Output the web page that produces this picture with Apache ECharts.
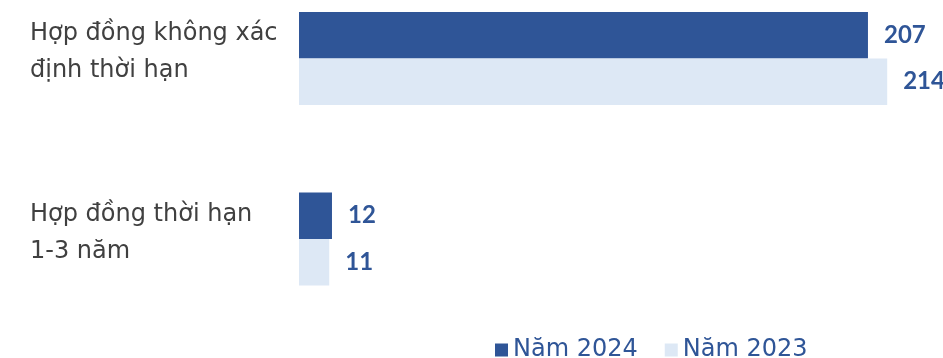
<!DOCTYPE html>
<html>
<head>
<meta charset="utf-8">
<script src="https://cdn.jsdelivr.net/npm/echarts@6/dist/echarts.min.js"></script>
<style>html,body{margin:0;padding:0;background:#fff;}#c{width:943px;height:358px;}</style>
</head>
<body>
<div id="c"></div>
<script>
const categories = ['Hợp đồng không xác\nđịnh thời hạn', 'Hợp đồng thời hạn\n1-3 năm'];
const seriesNames = ['Năm 2024', 'Năm 2023'];
const values2024 = [207, 12];
const values2023 = [214, 11];
const colors = ['#2f5597', '#dde8f5'];
const FONT = 'DejaVu Sans';
const NUMFONT = 'Lato';

const chart = echarts.init(document.getElementById('c'), null, {renderer: 'canvas'});
chart.setOption({
  animation: false,
  textStyle: {fontFamily: FONT},
  legend: {
    left: 490, top: 333,
    itemWidth: 13, itemHeight: 13, itemGap: 27,
    icon: 'rect',
    textStyle: {fontFamily: FONT, fontSize: 24, color: '#2f5597'},
    data: seriesNames
  },
  grid: {left: 299, right: 0, top: 58.5, height: 180.5, containLabel: false},
  xAxis: {type: 'value', min: 0, max: 234.3, show: false},
  yAxis: {
    type: 'category', data: categories, inverse: true, boundaryGap: false,
    axisLine: {show: false}, axisTick: {show: false}, splitLine: {show: false},
    axisLabel: {
      align: 'left', margin: 269, fontFamily: FONT, fontSize: 24, color: '#404040',
      lineHeight: 37, verticalAlign: 'middle',
      formatter: v => v + '\n{s| }',
      rich: {s: {lineHeight: 12, fontSize: 1}}
    }
  },
  series: [
    {name: seriesNames[0], type: 'bar', data: values2024, barWidth: 46.5, barGap: '0%',
     itemStyle: {color: colors[0]},
     label: {show: true, position: 'right', distance: 16, color: '#2f5597', fontFamily: NUMFONT, fontWeight: 'bold', fontSize: 24}},
    {name: seriesNames[1], type: 'bar', data: values2023, barWidth: 46.5, barGap: '0%',
     itemStyle: {color: colors[1]},
     label: {show: true, position: 'right', distance: 16, color: '#2f5597', fontFamily: NUMFONT, fontWeight: 'bold', fontSize: 24}}
  ]
});
</script>
</body>
</html>
